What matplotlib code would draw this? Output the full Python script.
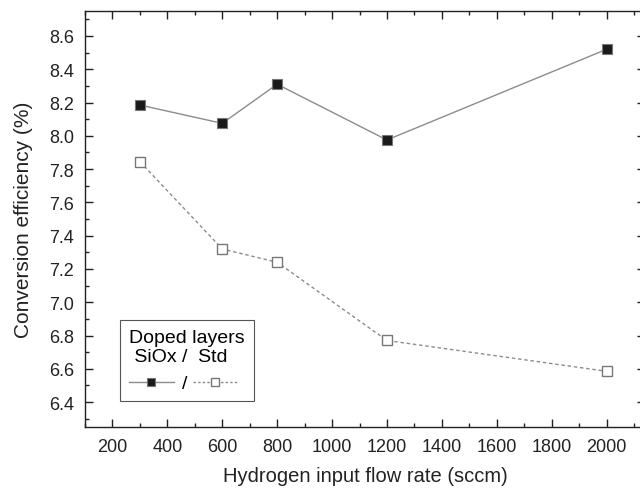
import numpy as np
import matplotlib.pyplot as plt
from matplotlib.lines import Line2D
from matplotlib.ticker import MultipleLocator

plt.rcParams['font.family'] = ['Liberation Sans', 'DejaVu Sans']

# hydrogen flow (sccm) and conversion efficiency (%)
flow = [300, 600, 800, 1200, 2000]
eff_siox = [8.185, 8.075, 8.31, 7.975, 8.52]
eff_std = [7.845, 7.32, 7.24, 6.77, 6.585]

fig = plt.figure(figsize=(6.4, 4.89), dpi=100)
ax = fig.add_axes([0.1328, 0.1247, 0.875, 0.8507])

ax.plot(flow, eff_siox, color='#8c8c8c', lw=1.0, marker='s', ms=6.5,
        mfc='#1a1a1a', mec='#777777', mew=0.8)
ax.plot(flow, eff_std, color='#8c8c8c', lw=1.0, ls=(0, (2.5, 2)), marker='s', ms=6.5,
        mfc='white', mec='#777777', mew=1.0)

ax.set_xlim(100, 2140)
ax.set_ylim(6.25, 8.75)
ax.xaxis.set_minor_locator(MultipleLocator(100))
ax.yaxis.set_minor_locator(MultipleLocator(0.1))
ax.set_xticks(np.arange(200, 2001, 200))
ax.set_yticks(np.arange(6.4, 8.61, 0.2))
ax.yaxis.set_major_formatter(plt.FormatStrFormatter('%.1f'))

ax.tick_params(which='both', direction='in', top=True, right=True,
               labelsize=13, colors='#222222')
ax.tick_params(which='major', length=6, width=1, pad=8)
ax.tick_params(which='minor', length=3, width=1)
for s in ax.spines.values():
    s.set_linewidth(1.0)
    s.set_color('#222222')

ax.set_xlabel('Hydrogen input flow rate (sccm)', fontsize=14.5, color='#222222', labelpad=8)
ax.set_ylabel('Conversion efficiency (%)', fontsize=15, color='#222222', labelpad=11)

h1 = Line2D([], [], color='#8c8c8c', lw=1.0, marker='s', ms=5.5,
            mfc='#1a1a1a', mec='#777777', mew=0.8)
h2 = Line2D([], [], color='#8c8c8c', lw=1.0, ls=(0, (1.8, 1.5)), marker='s', ms=5.5,
            mfc='white', mec='#777777', mew=1.0)
leg = ax.legend([h1, h2], ['/', ''], ncol=2, loc='lower left',
                bbox_to_anchor=(0.063, 0.062), borderaxespad=0,
                title='Doped layers\n SiOx /  Std', title_fontsize=14, fontsize=14,
                fancybox=False, edgecolor='#555555', framealpha=1,
                handlelength=2.3, handletextpad=0.4, columnspacing=0.3,
                borderpad=0.45)
leg.get_frame().set_linewidth(0.8)

fig.savefig('out.png', dpi=100)
